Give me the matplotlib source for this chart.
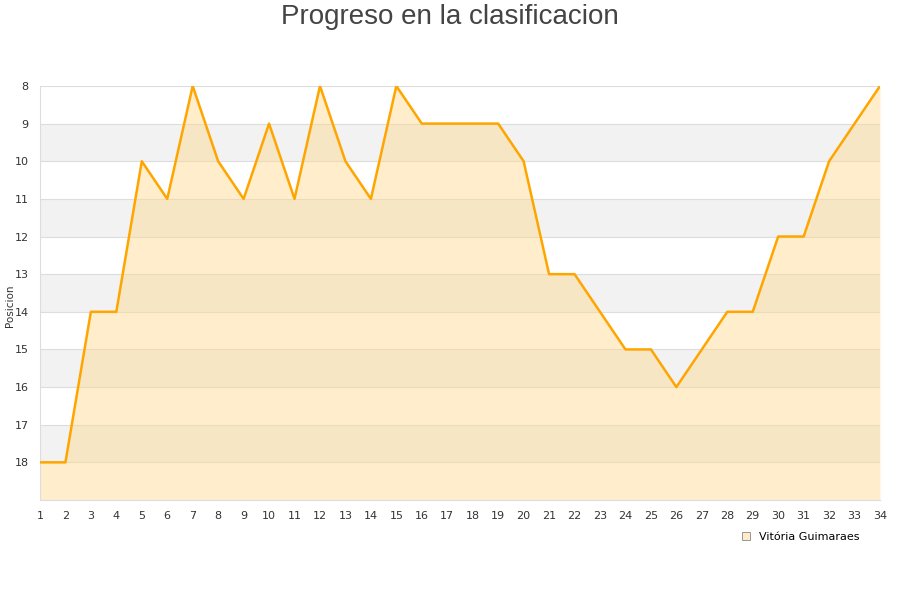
import matplotlib
matplotlib.use("Agg")
import matplotlib.pyplot as plt
from matplotlib.patches import Patch

jornadas = list(range(1, 35))
posiciones = [18, 18, 14, 14, 10, 11, 8, 10, 11, 9, 11, 8, 10, 11, 8, 9, 9, 9, 9,
              10, 13, 13, 14, 15, 15, 16, 15, 14, 14, 12, 12, 10, 9, 8]
equipo = "Vitória Guimaraes"
y_ticks = list(range(8, 19))


def main():
    fig = plt.figure(figsize=(9, 6), dpi=100)
    ax = fig.add_axes([0.0444, 0.1667, 0.9334, 0.69])

    # alternating bands
    for y in range(9, 19, 2):
        ax.axhspan(y, y + 1, color="#f2f2f2", zorder=0, lw=0)
    for y in y_ticks:
        ax.axhline(y, color="#dddddd", lw=0.8, zorder=1)

    ax.fill_between(jornadas, posiciones, 19, color="#ffd98c", alpha=0.45,
                    lw=0, zorder=2)
    ax.plot(jornadas, posiciones, color="#ffa500", lw=1.8, zorder=3)

    ax.set_xlim(1, 34)
    ax.set_ylim(19, 8)
    ax.set_xticks(jornadas)
    ax.set_yticks(y_ticks)
    ax.tick_params(length=0, labelsize=8, colors="#333333", pad=8)
    for s in ax.spines.values():
        s.set_color("#dddddd")
        s.set_linewidth(0.8)
    ax.spines["top"].set_visible(False)
    ax.spines["right"].set_visible(False)

    fig.text(0.011, 0.49, "Posicion", rotation=90, fontsize=7.5,
             color="#333333", ha="center", va="center")
    fig.suptitle("Progreso en la clasificacion", y=0.993, fontsize=20,
                 color="#444444", family="Liberation Sans")

    handle = Patch(facecolor="#ffebc8", edgecolor="#888888", lw=0.6)
    fig.legend([handle], [equipo], loc="center", bbox_to_anchor=(0.89, 0.105),
               frameon=False, fontsize=8, handlelength=0.7, handleheight=0.7)

    fig.savefig("out.png", dpi=100)


if __name__ == "__main__":
    main()
